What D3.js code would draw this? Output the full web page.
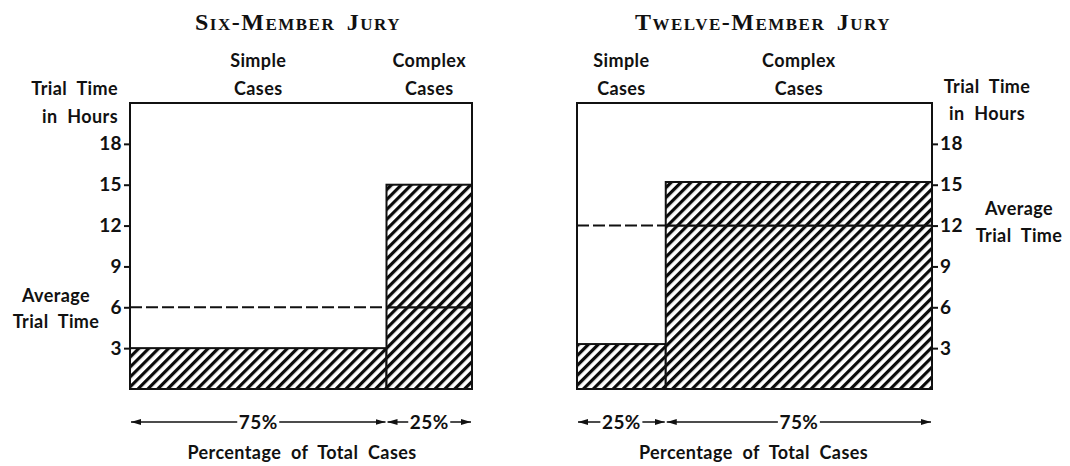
<!DOCTYPE html>
<html>
<head>
<meta charset="utf-8">
<script src="https://cdn.jsdelivr.net/npm/d3@7"></script>
<style>
  body { margin: 0; background: #fff; }
  svg text { font-family: Lato, "Open Sans", sans-serif; font-weight: 700; fill: #111; word-spacing: 5px; letter-spacing: 0.4px; }
  .title { font-family: "Liberation Serif", "DejaVu Serif", serif; font-variant: small-caps; font-size: 24px; letter-spacing: 1.5px; word-spacing: 4px; }
</style>
</head>
<body>
<svg id="chart" width="1070" height="466"></svg>
<script>
// values
const categories = ['Simple', 'Complex'];
const sixShares = [75, 25];
const sixHours = [3, 15];
const sixAverage = 6;
const twelveShares = [25, 75];
const twelveHours = [3.3, 15.2];
const twelveAverage = 12;
const yTicks = [3, 6, 9, 12, 15, 18];
const yMax = 21;

const svg = d3.select('#chart');

const defs = svg.append('defs');
const pat = defs.append('pattern')
  .attr('id', 'hatch')
  .attr('patternUnits', 'userSpaceOnUse')
  .attr('width', 7).attr('height', 7)
  .attr('patternTransform', 'rotate(45)');
pat.append('rect').attr('width', 7).attr('height', 7).attr('fill', '#fff');
pat.append('rect')
  .attr('x', 0).attr('y', 0).attr('width', 3.2).attr('height', 7)
  .attr('fill', '#0a0a0a');

['arrowEnd', 'arrowStart'].forEach((id, i) => {
  defs.append('marker')
    .attr('id', id)
    .attr('viewBox', '0 0 10 6')
    .attr('refX', i === 0 ? 10 : 0).attr('refY', 3)
    .attr('markerWidth', 10).attr('markerHeight', 6)
    .attr('markerUnits', 'userSpaceOnUse')
    .attr('orient', 'auto')
    .append('path')
    .attr('d', i === 0 ? 'M0,0L10,3L0,6Z' : 'M10,0L0,3L10,6Z')
    .attr('fill', '#111');
});

const y = d3.scaleLinear().domain([0, yMax]).range([389, 103]);

function drawPanel(opts) {
  const { shares, hours, average, x0, x1, side, title, titleX } = opts;
  const x = d3.scaleLinear().domain([0, 100]).range([x0, x1]);
  const g = svg.append('g');

  const segs = [];
  let acc = 0;
  shares.forEach((s, i) => {
    segs.push({ name: categories[i], share: s, start: acc, end: acc + s, hours: hours[i] });
    acc += s;
  });

  g.append('text').attr('class', 'title')
    .attr('x', titleX).attr('y', 30)
    .attr('text-anchor', 'middle')
    .text(title);

  // frame
  g.append('rect')
    .attr('x', x(0)).attr('y', y(yMax))
    .attr('width', x(100) - x(0)).attr('height', y(0) - y(yMax))
    .attr('fill', 'none').attr('stroke', '#111').attr('stroke-width', 2);

  // average line, dashed over open area
  g.append('line')
    .attr('x1', x(0)).attr('x2', x(100))
    .attr('y1', y(average)).attr('y2', y(average))
    .attr('stroke', '#111').attr('stroke-width', 2)
    .attr('stroke-dasharray', '12,4');

  // bars
  g.selectAll('rect.bar').data(segs).enter().append('rect')
    .attr('class', 'bar')
    .attr('x', d => x(d.start))
    .attr('y', d => y(d.hours))
    .attr('width', d => x(d.end) - x(d.start))
    .attr('height', d => y(0) - y(d.hours))
    .attr('fill', 'url(#hatch)')
    .attr('stroke', '#111').attr('stroke-width', 2);

  // average line runs solid through the hatched bars
  g.selectAll('line.avg').data(segs.filter(d => d.hours > average)).enter().append('line')
    .attr('class', 'avg')
    .attr('x1', d => x(d.start)).attr('x2', d => x(d.end))
    .attr('y1', y(average)).attr('y2', y(average))
    .attr('stroke', '#111').attr('stroke-width', 2.2);

  // category labels
  const cat = g.selectAll('text.cat').data(segs).enter().append('text')
    .attr('class', 'cat')
    .attr('text-anchor', 'middle')
    .style('font-size', '18px');
  cat.append('tspan').attr('x', d => x((d.start + d.end) / 2)).attr('y', 67).text(d => d.name);
  cat.append('tspan').attr('x', d => x((d.start + d.end) / 2)).attr('y', 95).text('Cases');

  // axis
  const axis = (side === 'left' ? d3.axisLeft(y) : d3.axisRight(y))
    .tickValues(yTicks).tickSize(6).tickPadding(2);
  const ax = g.append('g')
    .attr('transform', `translate(${side === 'left' ? x(0) : x(100)},0)`)
    .call(axis);
  ax.select('.domain').remove();
  ax.selectAll('line').attr('stroke', '#111').attr('stroke-width', 2);
  ax.selectAll('text')
    .style('font-family', 'Lato, sans-serif').style('font-weight', 700)
    .style('font-size', '19px').attr('fill', '#111');

  // arrows with percentages
  const arr = g.selectAll('g.arr').data(segs).enter().append('g').attr('class', 'arr');
  arr.append('line')
    .attr('x1', d => x(d.start) + 1).attr('x2', d => x(d.end) - 1)
    .attr('y1', 422).attr('y2', 422)
    .attr('stroke', '#111').attr('stroke-width', 1.6)
    .attr('marker-start', 'url(#arrowStart)')
    .attr('marker-end', 'url(#arrowEnd)');
  arr.append('rect')
    .attr('x', d => x((d.start + d.end) / 2) - 21).attr('y', 412)
    .attr('width', 42).attr('height', 20).attr('fill', '#fff');
  arr.append('text')
    .attr('x', d => x((d.start + d.end) / 2)).attr('y', 429)
    .attr('text-anchor', 'middle').style('font-size', '19px')
    .text(d => d.share + '%');

  g.append('text')
    .attr('x', x(50) + (side === 'left' ? 1 : -1)).attr('y', 459)
    .attr('text-anchor', 'middle').style('font-size', '18px')
    .text('Percentage of Total Cases');

  return x;
}

drawPanel({ shares: sixShares, hours: sixHours, average: sixAverage,
  x0: 130, x1: 472, side: 'left', title: 'Six-Member Jury', titleX: 298 });
drawPanel({ shares: twelveShares, hours: twelveHours, average: twelveAverage,
  x0: 577, x1: 932, side: 'right', title: 'Twelve-Member Jury', titleX: 763 });

// side labels
function label(lines, cx, ys, anchor) {
  const t = svg.append('text').attr('text-anchor', anchor).style('font-size', '18px');
  lines.forEach((s, i) => t.append('tspan').attr('x', cx).attr('y', ys[i]).text(s));
}
label(['Trial Time', 'in Hours'], 118, [95, 123], 'end');
label(['Average', 'Trial Time'], 56, [302, 328], 'middle');
label(['Trial Time', 'in Hours'], 987, [93, 120], 'middle');
label(['Average', 'Trial Time'], 1019, [215, 242], 'middle');
</script>
</body>
</html>
